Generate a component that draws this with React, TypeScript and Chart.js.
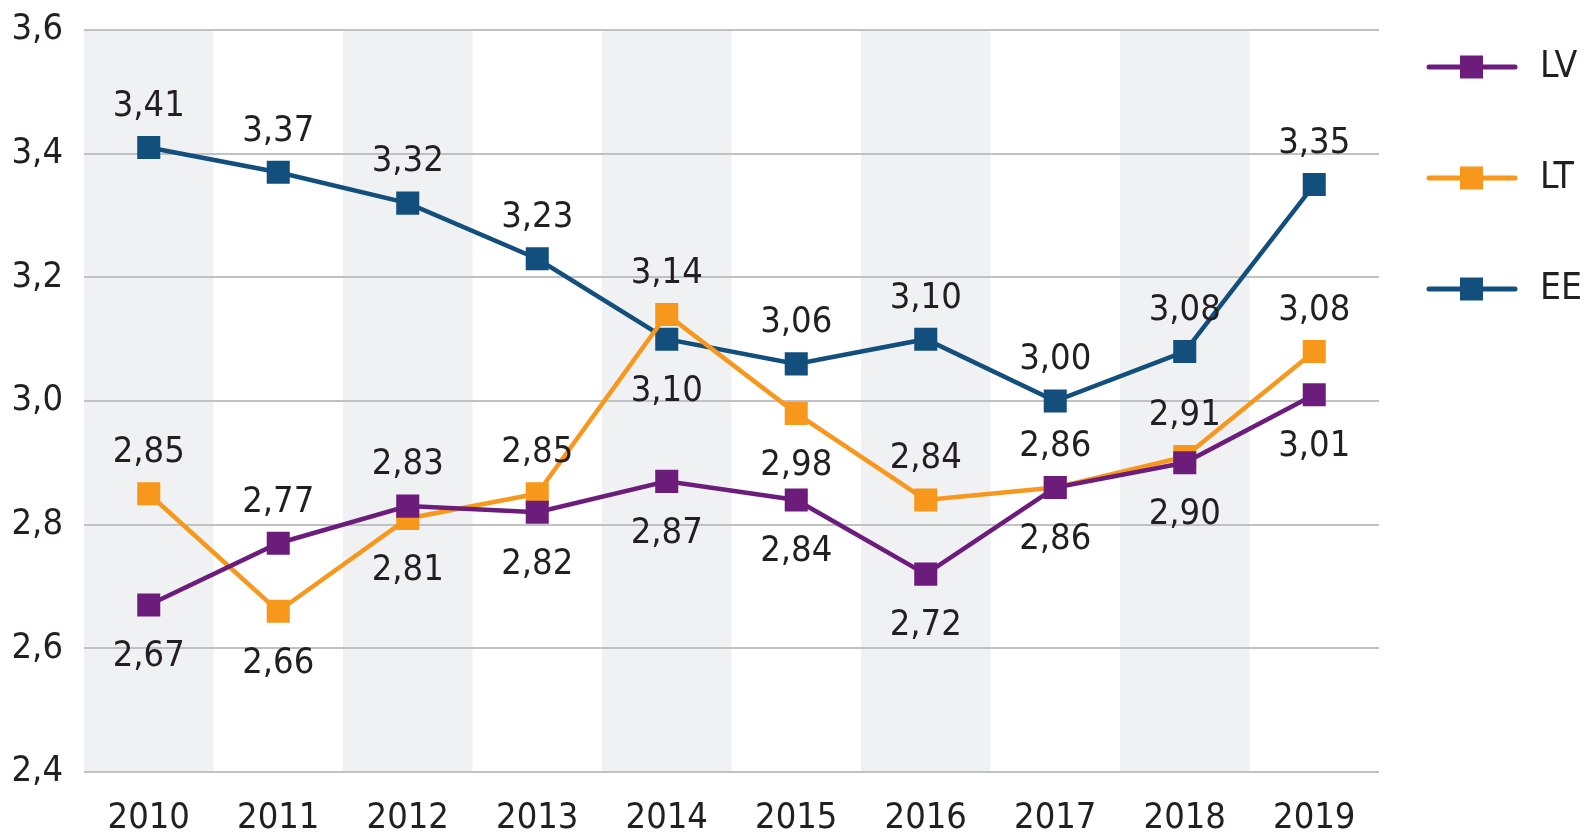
import React, { useEffect, useRef } from "react";
import { Chart, registerables } from "chart.js";

Chart.register(...registerables);

const years = ["2010", "2011", "2012", "2013", "2014", "2015", "2016", "2017", "2018", "2019"];
const lvValues = [2.67, 2.77, 2.83, 2.82, 2.87, 2.84, 2.72, 2.86, 2.9, 3.01];
const ltValues = [2.85, 2.66, 2.81, 2.85, 3.14, 2.98, 2.84, 2.86, 2.91, 3.08];
const eeValues = [3.41, 3.37, 3.32, 3.23, 3.1, 3.06, 3.1, 3.0, 3.08, 3.35];
// label placement: 1 = above the point, -1 = below
const lvLabelSide = [-1, 1, 1, -1, -1, -1, -1, -1, -1, -1];
const ltLabelSide = [1, -1, -1, 1, 1, -1, 1, 1, 1, 1];
const eeLabelSide = [1, 1, 1, 1, -1, 1, 1, 1, 1, 1];
const yTicks = [2.4, 2.6, 2.8, 3.0, 3.2, 3.4, 3.6];

const FONT = "'DejaVu Sans Condensed', 'DejaVu Sans', Verdana, sans-serif";
const FSIZE = 36;
const TEXT = "#231f20";
const COLORS = { LV: "#6c1d7c", LT: "#f7981d", EE: "#134f7c" };

const fmt = (v: number, d: number) => v.toFixed(d).replace(".", ",");

const bandsPlugin = {
  id: "bands",
  beforeDraw(chart: any) {
    const { ctx, chartArea, scales } = chart;
    const x = scales.x;
    const w = (chartArea.right - chartArea.left) / years.length;
    ctx.save();
    ctx.fillStyle = "#f0f1f3";
    years.forEach((_, i) => {
      if (i % 2 === 0) {
        const cx = x.getPixelForValue(i);
        ctx.fillRect(cx - w / 2, chartArea.top, w, chartArea.bottom - chartArea.top);
      }
    });
    ctx.restore();
  },
};

const labelsPlugin = {
  id: "pointLabels",
  afterDatasetsDraw(chart: any) {
    const { ctx } = chart;
    ctx.save();
    ctx.font = `${FSIZE}px ${FONT}`;
    ctx.fillStyle = TEXT;
    ctx.textAlign = "center";
    ctx.textBaseline = "middle";
    chart.data.datasets.forEach((ds: any, di: number) => {
      const meta = chart.getDatasetMeta(di);
      meta.data.forEach((pt: any, i: number) => {
        const side = ds.labelSide[i];
        const y = side > 0 ? pt.y - 41 : pt.y + 52;
        ctx.fillText(fmt(ds.data[i], 2), pt.x, y);
      });
    });
    ctx.restore();
  },
};

const legendPlugin = {
  id: "customLegend",
  afterDraw(chart: any) {
    const { ctx } = chart;
    ctx.save();
    chart.data.datasets.forEach((ds: any, i: number) => {
      const y = 67 + i * 111;
      ctx.strokeStyle = ds.borderColor;
      ctx.lineWidth = 5;
      ctx.lineCap = "round";
      ctx.beginPath();
      ctx.moveTo(1429, y);
      ctx.lineTo(1515, y);
      ctx.stroke();
      ctx.fillStyle = ds.borderColor;
      ctx.fillRect(1471.5 - 11.5, y - 11.5, 23, 23);
      ctx.fillStyle = TEXT;
      ctx.font = `${FSIZE + 1}px ${FONT}`;
      ctx.textAlign = "left";
      ctx.textBaseline = "middle";
      ctx.fillText(ds.label, 1540, y);
    });
    ctx.restore();
  },
};

export default function App() {
  const ref = useRef<HTMLCanvasElement>(null);
  useEffect(() => {
    if (!ref.current) return;
    const mk = (label: string, data: number[], color: string, side: number[]) => ({
      label,
      data,
      labelSide: side,
      borderColor: color,
      backgroundColor: color,
      borderWidth: 4.5,
      pointStyle: "rect",
      pointRadius: 16.3,
      pointBorderWidth: 0,
      pointBackgroundColor: color,
      tension: 0,
    });
    const chart = new Chart(ref.current, {
      type: "line",
      data: {
        labels: years,
        datasets: [
          mk("LV", lvValues, COLORS.LV, lvLabelSide),
          mk("LT", ltValues, COLORS.LT, ltLabelSide),
          mk("EE", eeValues, COLORS.EE, eeLabelSide),
        ] as any,
      },
      options: {
        animation: false,
        responsive: false,
        layout: { padding: { top: 30, right: 206, left: 0, bottom: 0 } },
        plugins: { legend: { display: false }, tooltip: { enabled: false } },
        scales: {
          x: {
            offset: true,
            grid: { display: false },
            border: { display: false },
            ticks: { font: { family: FONT, size: FSIZE }, color: TEXT, padding: 17, maxRotation: 0 },
            afterFit: (s: any) => {
              s.height = 833 - 772;
              s.paddingLeft = 0;
              s.paddingRight = 0;
            },
          },
          y: {
            min: 2.4,
            max: 3.6,
            afterBuildTicks: (s: any) => {
              s.ticks = yTicks.map((v) => ({ value: v }));
            },
            grid: { color: "#c1c1c4", lineWidth: 2, drawTicks: false },
            border: { display: false },
            ticks: {
              font: { family: FONT, size: FSIZE },
              color: TEXT,
              padding: 21,
              callback: (v: any) => fmt(Number(v), 1),
            },
            afterFit: (s: any) => {
              s.width = 84;
              s.paddingTop = 0;
              s.paddingBottom = 0;
            },
          },
        },
      },
      plugins: [bandsPlugin, labelsPlugin, legendPlugin],
    } as any);
    return () => chart.destroy();
  }, []);
  return (
    <div style={{ position: "fixed", left: 0, top: 0, width: 1585, height: 833, background: "#fff" }}>
      <canvas ref={ref} width={1585} height={833} style={{ width: 1585, height: 833 }} />
    </div>
  );
}
